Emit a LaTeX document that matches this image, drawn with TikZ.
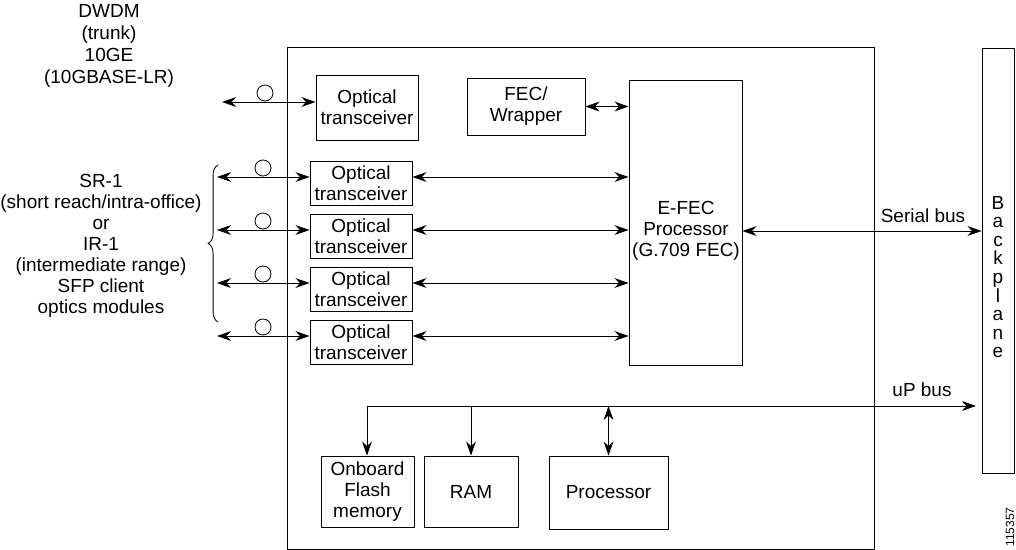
\documentclass[tikz,border=0pt]{standalone}
\usepackage{fontspec}
\setmainfont{Liberation Sans}
\usetikzlibrary{arrows.meta,decorations.pathreplacing}

\begin{document}
\begin{tikzpicture}[x=.025cm, y=-.025cm, line width=.6pt,
  font=\fontsize{13.5}{15}\selectfont,
  box/.style={draw, inner sep=0pt, align=center},
  link/.style={{Stealth[length=10pt,width=7pt]}-{Stealth[length=10pt,width=7pt]}},
  tolink/.style={-{Stealth[length=10pt,width=7pt]}},
  fiber/.style={draw, circle, minimum size=.4cm, inner sep=0pt}]
\useasboundingbox (0,0) rectangle (1016,550);
% line card
\draw (287,47) rectangle (874,549);
\node[box, minimum width=.8cm, minimum height=10.625cm] (bp) at (998,260.5) {};
\node[align=center, font=\fontsize{13.5}{13.2}\selectfont] (bptext) at (998,277) {B\\a\\c\\k\\p\\l\\a\\n\\e};
\node[box, minimum width=2.825cm, minimum height=7.125cm] (efec) at (685.5,222.5) {};
\node[align=center] (efectext) at (686,231) {E-FEC\\Processor\\(G.709 FEC)};
% trunk side
\node[align=center, font=\fontsize{13.5}{15.6}\selectfont] (dwdm) at (109,46) {DWDM\\(trunk)\\10GE\\(10GBASE-LR)};
\node[box, minimum width=2.55cm, minimum height=1.625cm] (ot0) at (367,107.5) {Optical\\transceiver};
\node[box, minimum width=2.95cm, minimum height=1.425cm] (fec) at (526,106.5) {FEC/\\Wrapper};
\coordinate (in0) at (222,102);
\draw[link] (in0) -- (in0 -| ot0.west);
\node[fiber] (f0) at (265,93) {};
\draw[link] (fec.east) -- (fec.east -| efec.west);
% client side
\node[align=center] (client) at (101,246) {SR-1\\(short reach/intra-office)\\or\\IR-1\\(intermediate range)\\SFP client\\optics modules};
\draw[decorate, decoration={brace, amplitude=7pt}] (218,322) -- (218,165);
\foreach \i/\y in {1/183,2/236,3/289,4/342}{
  \node[box, minimum width=2.55cm, minimum height=1.1cm] (ot\i) at (361,\y) {Optical\\transceiver};
  \coordinate (in\i) at (217,\y-6);
  \draw[link] (in\i) -- (in\i -| ot\i.west);
  \draw[link] (ot\i.east |- in\i) -- (in\i -| efec.west);
  \node[fiber] (f\i) at (263,\y-15) {};
}
% buses
\draw[link] (efec.east |- efectext) -- (efectext -| bp.west);
\node (sblabel) at (923,216) {Serial bus};
\node[box, minimum width=2.325cm, minimum height=1.775cm] (flash) at (367.5,491.5) {Onboard\\Flash\\memory};
\node[box, minimum width=2.35cm, minimum height=1.775cm] (ram) at (471,491.5) {RAM};
\node[box, minimum width=2.975cm, minimum height=1.825cm] (proc) at (608.5,492.5) {Processor};
\coordinate (bus) at (367,406);
\draw[tolink, shorten >=4pt] (bus) -- (bus -| bp.west);
\node (uplabel) at (922,390) {uP bus};
\draw[tolink] (bus) -- (bus |- flash.north);
\draw[tolink] (bus -| ram.north) -- (ram.north);
\draw[link] (bus -| proc.north) -- (proc.north);
\node[rotate=90, font=\fontsize{8.5}{10}\selectfont] (fignum) at (1010,527) {115357};
\end{tikzpicture}
\end{document}
